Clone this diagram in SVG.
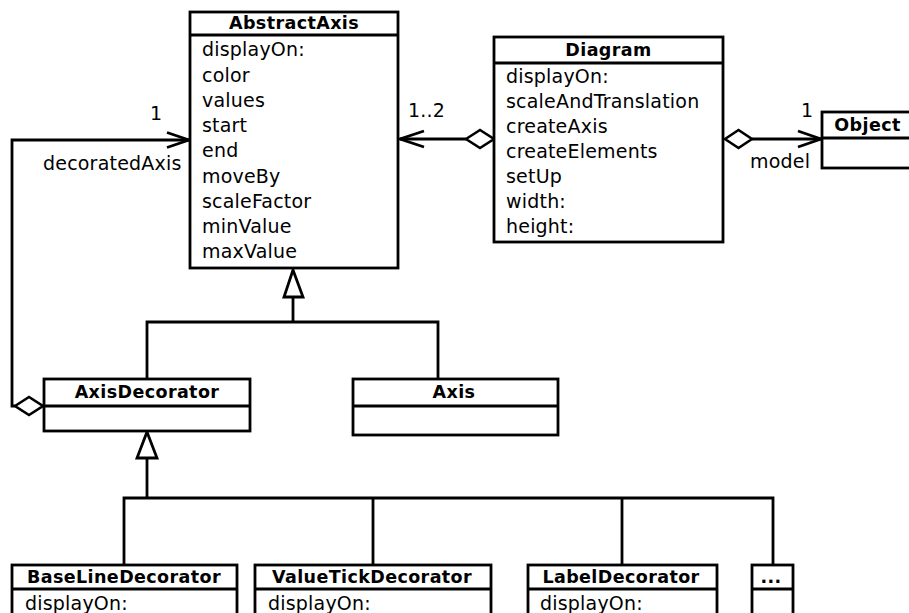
<svg xmlns="http://www.w3.org/2000/svg" width="909" height="613" viewBox="0 0 909 613">
<style>
  .box { fill: #fff; stroke: #000; stroke-width: 2.8; }
  .sep { stroke: #000; stroke-width: 2.8; }
  .t { font-family: "DejaVu Sans", "Liberation Sans", sans-serif; font-size: 19px; letter-spacing: 0.2px; fill: #000; }
  .h { font-family: "DejaVu Sans", "Liberation Sans", sans-serif; font-size: 17.5px; font-weight: bold; fill: #000; text-anchor: middle; letter-spacing: 0.4px; }
  .ln { fill: none; stroke: #000; stroke-width: 2.8; stroke-linejoin: miter; }
  .open { fill: none; stroke: #000; stroke-width: 2.8; }
  .dia { fill: #fff; stroke: #000; stroke-width: 2.6; }
  .tri { fill: #fff; stroke: #000; stroke-width: 2.8; stroke-linejoin: miter; }
</style>
<rect width="909" height="613" fill="#fff"/>

<g id="connectors">
  <!-- decoratedAxis aggregation -->
  <polyline class="ln" points="15,406 12,406 12,140 189,140"/>
  <polyline class="open" points="167,132.5 189,140 167,147.5"/>
  <polygon class="dia" points="15,406 29,397 43,406 29,415"/>
  <text class="t" x="150" y="120">1</text>
  <text class="t" x="43" y="170">decoratedAxis</text>

  <!-- Diagram -> AbstractAxis -->
  <line class="ln" x1="400" y1="139" x2="466" y2="139"/>
  <polyline class="open" points="424,131 400,139 424,147"/>
  <polygon class="dia" points="466,139 480,130 494,139 480,148"/>
  <text class="t" x="408" y="117">1..2</text>

  <!-- Diagram -> Object -->
  <line class="ln" x1="752" y1="139" x2="821" y2="139"/>
  <polyline class="open" points="798,131 821,139 798,147"/>
  <polygon class="dia" points="725,139 738.5,130 752,139 738.5,148"/>
  <text class="t" x="801" y="117">1</text>
  <text class="t" x="750" y="168">model</text>

  <!-- Generalization to AbstractAxis -->
  <polyline class="ln" points="147,379 147,322 438,322 438,379"/>
  <line class="ln" x1="293" y1="297" x2="293" y2="322"/>
  <polygon class="tri" points="293,270 303,297 284,297"/>

  <!-- Generalization to AxisDecorator -->
  <polyline class="ln" points="124,565 124,498 773,498 773,565"/>
  <line class="ln" x1="373" y1="498" x2="373" y2="565"/>
  <line class="ln" x1="622" y1="498" x2="622" y2="565"/>
  <line class="ln" x1="147" y1="458" x2="147" y2="498"/>
  <polygon class="tri" points="147,432 157,458 137,458"/>
</g>

<g id="AbstractAxis">
  <rect class="box" x="190" y="12" width="208" height="256"/>
  <line class="sep" x1="190" y1="35" x2="398" y2="35"/>
  <text class="h" x="294" y="29">AbstractAxis</text>
  <text class="t" x="202" y="56">displayOn:</text>
  <text class="t" x="202" y="81.5">color</text>
  <text class="t" x="202" y="106.5">values</text>
  <text class="t" x="202" y="132">start</text>
  <text class="t" x="202" y="157">end</text>
  <text class="t" x="202" y="182.5">moveBy</text>
  <text class="t" x="202" y="207.5">scaleFactor</text>
  <text class="t" x="202" y="233">minValue</text>
  <text class="t" x="202" y="258">maxValue</text>
</g>

<g id="Diagram">
  <rect class="box" x="494" y="37" width="229" height="205"/>
  <line class="sep" x1="494" y1="63" x2="723" y2="63"/>
  <text class="h" x="608.5" y="56">Diagram</text>
  <text class="t" x="506" y="83">displayOn:</text>
  <text class="t" x="506" y="108">scaleAndTranslation</text>
  <text class="t" x="506" y="133">createAxis</text>
  <text class="t" x="506" y="158">createElements</text>
  <text class="t" x="506" y="183">setUp</text>
  <text class="t" x="506" y="208">width:</text>
  <text class="t" x="506" y="233">height:</text>
</g>

<g id="Object">
  <rect class="box" x="822" y="112" width="92" height="56"/>
  <line class="sep" x1="822" y1="138" x2="914" y2="138"/>
  <text class="h" x="867.5" y="131">Object</text>
</g>

<g id="AxisDecorator">
  <rect class="box" x="44" y="379" width="206" height="52"/>
  <line class="sep" x1="44" y1="406" x2="250" y2="406"/>
  <text class="h" x="147" y="398">AxisDecorator</text>
</g>

<g id="Axis">
  <rect class="box" x="353" y="379" width="205" height="56"/>
  <line class="sep" x1="353" y1="406" x2="558" y2="406"/>
  <text class="h" x="454" y="398">Axis</text>
</g>

<g id="BaseLineDecorator">
  <rect class="box" x="12" y="565" width="225" height="60"/>
  <line class="sep" x1="12" y1="589" x2="237" y2="589"/>
  <text class="h" x="124" y="583">BaseLineDecorator</text>
  <text class="t" x="25" y="610">displayOn:</text>
</g>

<g id="ValueTickDecorator">
  <rect class="box" x="255" y="565" width="236" height="60"/>
  <line class="sep" x1="255" y1="589" x2="491" y2="589"/>
  <text class="h" x="372" y="583">ValueTickDecorator</text>
  <text class="t" x="268" y="610">displayOn:</text>
</g>

<g id="LabelDecorator">
  <rect class="box" x="528" y="565" width="189" height="60"/>
  <line class="sep" x1="528" y1="589" x2="717" y2="589"/>
  <text class="h" x="621" y="583">LabelDecorator</text>
  <text class="t" x="540" y="610">displayOn:</text>
</g>

<g id="More">
  <rect class="box" x="752" y="565" width="41" height="60"/>
  <line class="sep" x1="752" y1="589" x2="793" y2="589"/>
  <text class="h" x="771" y="583">...</text>
</g>
</svg>
